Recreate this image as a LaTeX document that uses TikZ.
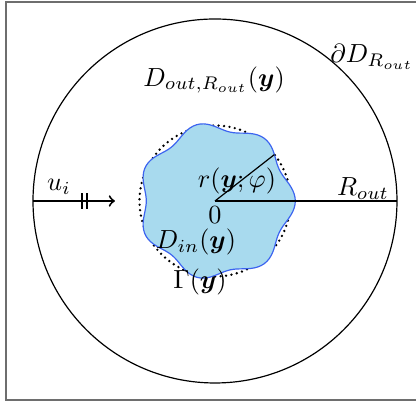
\documentclass[tikz,border=0pt]{standalone}
\usepackage{amsmath}
\usepackage{bm}
\usepackage{xcolor}
\definecolor{blobfill}{RGB}{168,218,238}
\definecolor{blobline}{RGB}{60,100,240}
\definecolor{framegray}{RGB}{110,110,110}

\begin{document}
\begin{tikzpicture}[x=0.42pt,y=0.42pt, every node/.style={scale=1.1}]
        \useasboundingbox (-215,-204) rectangle (201,201);
        \draw[framegray, line width=0.6pt] (-209,-199) rectangle (215,199);
        % outer disc and reference circle
        \coordinate (O) at (0,0);
        \coordinate (E) at (0:182);
        \coordinate (W) at (180:182);
        \draw[line width=0.5pt] (O) circle (182);
        \draw[line width=1.1pt, dash pattern=on 0pt off 2.3pt, line cap=round] (O) circle (75.5);
        % scatterer
        \filldraw[fill=blobfill, draw=blobline, line width=0.5pt]
          plot[domain=0:360, samples=140, smooth] (\x:{74.5+4.3*cos(7*\x)+1.5*cos(\x)}) -- cycle;
        \coordinate (P) at (38:{74.5+4.3*cos(7*38)+1.5*cos(38)});
        \draw[line width=0.5pt] (O) -- (P);
        \draw[line width=0.5pt] (O) -- (E);
        % incident wave
        \coordinate (A) at (-100,0);
        \draw[->, line width=0.8pt] (W) -- coordinate[pos=0.628] (M) (A);
        \draw[line width=0.8pt] ([xshift=-1.05pt]M) ++(0,-8) -- ++(0,16);
        \draw[line width=0.8pt] ([xshift=1.05pt]M) ++(0,-8) -- ++(0,16);
        % labels
        \node (ui) at (-156,14) {$u_i$};
        \node (Rout) at (148,12) {$R_{out}$};
        \node (zero) at (0,-14) {$0$};
        \node (rlab) at (22,20) {$r(\bm{y};\varphi)$};
        \node (Din) at (-19,-41) {$D_{in}(\bm{y})$};
        \node (Gam) at (-15,-81) {$\Gamma(\bm{y})$};
        \node (Dout) at (-1,121) {$D_{out,R_{out}}(\bm{y})$};
        \node (dD) at (157,144) {$\partial D_{R_{out}}$};
      \end{tikzpicture}
\end{document}
